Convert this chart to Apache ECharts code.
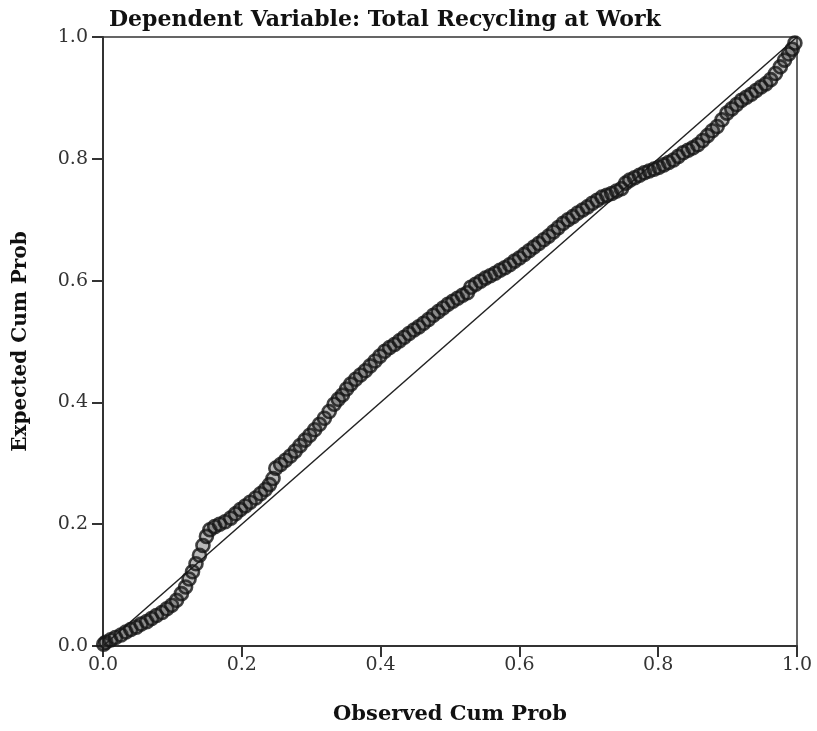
<!DOCTYPE html>
<html>
<head>
<meta charset="utf-8">
<script src="https://cdn.jsdelivr.net/npm/echarts@6/dist/echarts.min.js"></script>
<style>
  html, body { margin: 0; padding: 0; background: #fff; }
  #chart { width: 817px; height: 731px; }
</style>
</head>
<body>
<div id="chart"></div>
<script>
// P-P plot: observed vs expected cumulative probability
const observed = [
  0.001, 0.004, 0.011, 0.018, 0.026, 0.033, 0.040, 0.048, 0.055, 0.063, 0.070, 0.077, 0.085, 0.092, 0.099,
  0.106, 0.113, 0.119, 0.124, 0.129, 0.134, 0.139, 0.144, 0.149, 0.154, 0.161, 0.168, 0.176, 0.184, 0.191,
  0.198, 0.205, 0.212, 0.220, 0.227, 0.234, 0.240, 0.245, 0.249, 0.256, 0.263, 0.270, 0.277, 0.284, 0.291,
  0.298, 0.305, 0.312, 0.319, 0.326, 0.333, 0.339, 0.345, 0.351, 0.357, 0.364, 0.371, 0.378, 0.385, 0.392,
  0.399, 0.406, 0.413, 0.420, 0.427, 0.434, 0.441, 0.448, 0.455, 0.462, 0.469, 0.476, 0.483, 0.490, 0.497,
  0.504, 0.511, 0.518, 0.525, 0.530, 0.537, 0.544, 0.551, 0.558, 0.565, 0.572, 0.579, 0.586, 0.593, 0.600,
  0.607, 0.614, 0.621, 0.628, 0.635, 0.642, 0.649, 0.656, 0.663, 0.670, 0.677, 0.684, 0.691, 0.698, 0.705,
  0.712, 0.719, 0.726, 0.733, 0.740, 0.747, 0.753, 0.759, 0.766, 0.773, 0.780, 0.787, 0.794, 0.801, 0.808,
  0.815, 0.822, 0.829, 0.836, 0.843, 0.850, 0.857, 0.864, 0.871, 0.878, 0.885, 0.892, 0.899, 0.906, 0.913,
  0.920, 0.927, 0.934, 0.941, 0.948, 0.955, 0.962, 0.969, 0.976, 0.982, 0.988, 0.993, 0.997
];
const expected = [
  0.003, 0.006, 0.010, 0.014, 0.018, 0.023, 0.027, 0.031, 0.036, 0.040, 0.045, 0.050, 0.055, 0.061, 0.067,
  0.075, 0.086, 0.097, 0.110, 0.122, 0.135, 0.149, 0.165, 0.180, 0.191, 0.196, 0.200, 0.204, 0.210, 0.217,
  0.224, 0.230, 0.236, 0.243, 0.250, 0.257, 0.265, 0.275, 0.292, 0.298, 0.305, 0.312, 0.320, 0.329, 0.338,
  0.346, 0.355, 0.364, 0.374, 0.385, 0.397, 0.405, 0.412, 0.422, 0.430, 0.438, 0.445, 0.452, 0.460, 0.468,
  0.476, 0.484, 0.490, 0.495, 0.501, 0.507, 0.513, 0.519, 0.524, 0.530, 0.536, 0.543, 0.549, 0.555, 0.561,
  0.566, 0.571, 0.576, 0.580, 0.589, 0.594, 0.599, 0.604, 0.608, 0.612, 0.617, 0.621, 0.626, 0.632, 0.637,
  0.643, 0.649, 0.655, 0.661, 0.667, 0.673, 0.680, 0.687, 0.694, 0.700, 0.705, 0.711, 0.716, 0.721, 0.727,
  0.732, 0.737, 0.740, 0.743, 0.747, 0.751, 0.760, 0.765, 0.769, 0.773, 0.777, 0.780, 0.783, 0.786, 0.790,
  0.794, 0.798, 0.804, 0.810, 0.814, 0.818, 0.823, 0.830, 0.838, 0.846, 0.853, 0.864, 0.875, 0.882, 0.889,
  0.896, 0.901, 0.906, 0.912, 0.918, 0.923, 0.930, 0.940, 0.951, 0.962, 0.972, 0.980, 0.990
];
const refLine = [[0, 0], [1, 1]];   // diagonal reference
const titleText = 'Dependent Variable: Total Recycling at Work';
const xName = 'Observed Cum Prob';
const yName = 'Expected Cum Prob';

const chart = echarts.init(document.getElementById('chart'), null, { renderer: 'canvas' });

const points = observed.map((o, i) => [o, expected[i]]);
const serif = "'DejaVu Serif', 'Liberation Serif', serif";

const axisCommon = {
  type: 'value',
  min: 0,
  max: 1,
  interval: 0.2,
  splitLine: { show: false },
  axisLine: { show: true, lineStyle: { color: '#333', width: 2 } },
  axisTick: { show: true, length: 11, lineStyle: { color: '#333', width: 2 } },
  axisLabel: {
    color: '#333',
    fontSize: 19,
    fontFamily: serif,
    formatter: v => v.toFixed(1)
  },
  nameLocation: 'middle',
  nameTextStyle: { color: '#111', fontSize: 20, fontWeight: 'bold', fontFamily: serif }
};

chart.setOption({
  animation: false,
  backgroundColor: '#fff',
  title: {
    text: titleText,
    left: 104,
    top: 4,
    textStyle: { color: '#111', fontSize: 22, fontWeight: 'bold', fontFamily: serif }
  },
  grid: {
    left: 103, right: 20, top: 37, bottom: 85,
    show: true, borderColor: '#333', borderWidth: 1.5, backgroundColor: '#fff'
  },
  xAxis: Object.assign({}, axisCommon, {
    name: xName,
    nameGap: 58,
    nameTextStyle: Object.assign({}, axisCommon.nameTextStyle, { fontSize: 21 }),
    axisLabel: Object.assign({}, axisCommon.axisLabel, { margin: 10 })
  }),
  yAxis: Object.assign({}, axisCommon, {
    name: yName,
    nameGap: 72,
    nameRotate: 90,
    axisLabel: Object.assign({}, axisCommon.axisLabel, { margin: 15 })
  }),
  series: [
    {
      type: 'line',
      data: refLine,
      symbol: 'none',
      lineStyle: { color: '#222', width: 1.5 },
      z: 2
    },
    {
      type: 'scatter',
      data: points,
      symbol: 'circle',
      symbolSize: 13,
      itemStyle: { color: 'rgba(40,40,40,0.4)', borderColor: '#151515', borderWidth: 2.6 },
      z: 3
    }
  ]
});
</script>
</body>
</html>
